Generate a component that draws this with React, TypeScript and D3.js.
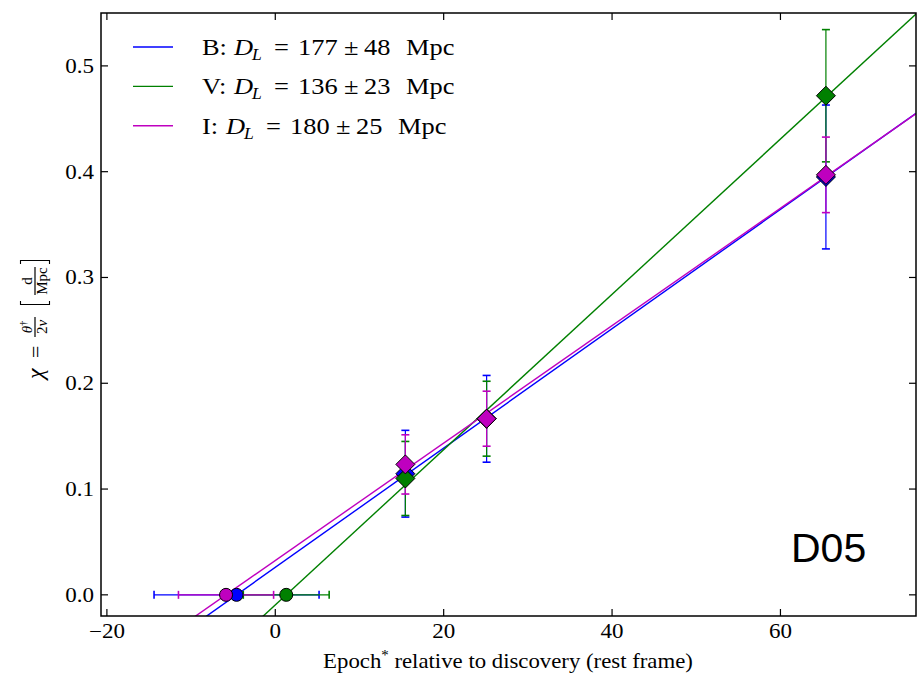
import React from "react";
import * as d3 from "d3";

// ---- data ----
const bands = ["B", "V", "I"];
const bandColors = ["#0000ff", "#008000", "#bf00bf"];
const distances = ["177", "136", "180"];
const distErrors = ["48", "23", "25"];
// zero-crossing epoch (circle) with symmetric x-error
const zeroEpoch = [-4.6, 1.3, -5.85];
const zeroEpochErr = [9.8, 5.1, 5.65];
// fitted slopes of chi vs epoch
const slopes = [0.00564, 0.00734, 0.00555];
// measured epochs
const epochs = [15.45, 25.1, 65.4];
const chiB = [0.1145, 0.1664, 0.395];
const chiBErr = [0.041, 0.041, 0.068];
const chiV = [0.11, 0.1665, 0.4718];
const chiVErr = [0.035, 0.0354, 0.0625];
const chiI = [0.1233, 0.1665, 0.397];
const chiIErr = [0.028, 0.026, 0.0357];
const xTicks = [-20, 0, 20, 40, 60];
const yTicks = [0.0, 0.1, 0.2, 0.3, 0.4, 0.5];
const xDomain = [-20.7, 76.1];
const yDomain = [-0.02, 0.55];

const chiValues = [chiB, chiV, chiI];
const chiErrors = [chiBErr, chiVErr, chiIErr];

const W = 918;
const H = 673;
const L = 101, R = 916, T = 13, B = 616;
const serif = "'Liberation Serif', 'Times New Roman', serif";

function SText(props: any) {
  const { x, y, sx = 1.18, anchor = "start", size = 21, italic = false, children } = props;
  return (
    <text
      transform={`translate(${x},${y}) scale(${sx},1)`}
      textAnchor={anchor}
      fontFamily={serif}
      fontSize={size}
      fontStyle={italic ? "italic" : "normal"}
      fill="#000"
    >
      {children}
    </text>
  );
}

export default function App() {
  const x = d3.scaleLinear().domain(xDomain).range([L, R]);
  const y = d3.scaleLinear().domain(yDomain).range([B, T]);
  const line = d3.line<[number, number]>().x((d) => x(d[0])).y((d) => y(d[1]));
  const fmtX = (v: number) => (v < 0 ? "\u2212" + Math.abs(v) : String(v));
  const tickLen = 7;
  const diamond = (cx: number, cy: number, r: number) =>
    `M${cx},${cy - r}L${cx + r},${cy}L${cx},${cy + r}L${cx - r},${cy}Z`;
  const legendShift = [0, 0, -8];

  return (
    <svg width={W} height={H} style={{ position: "absolute", left: 0, top: 0, background: "#fff" }}>
      <defs>
        <clipPath id="plotclip">
          <rect x={L} y={T} width={R - L} height={B - T} />
        </clipPath>
      </defs>
      <rect x={0} y={0} width={W} height={H} fill="#fff" />
      <g clipPath="url(#plotclip)">
        {bands.map((b, i) => (
          <path
            key={"fit" + b}
            d={line([
              [xDomain[0], slopes[i] * (xDomain[0] - zeroEpoch[i])],
              [xDomain[1], slopes[i] * (xDomain[1] - zeroEpoch[i])],
            ]) || ""}
            stroke={bandColors[i]}
            strokeWidth={1.4}
            fill="none"
          />
        ))}
        {bands.map((b, i) => (
          <g key={"pts" + b}>
            {epochs.map((e, j) => {
              const cx = x(e);
              const y1 = y(chiValues[i][j] + chiErrors[i][j]);
              const y2 = y(chiValues[i][j] - chiErrors[i][j]);
              return (
                <g key={j} stroke={bandColors[i]} strokeWidth={1.2}>
                  <line x1={cx} x2={cx} y1={y1} y2={y2} />
                  <line x1={cx - 4} x2={cx + 4} y1={y1} y2={y1} strokeWidth={1.6} />
                  <line x1={cx - 4} x2={cx + 4} y1={y2} y2={y2} strokeWidth={1.6} />
                </g>
              );
            })}
            {(() => {
              const x1 = x(zeroEpoch[i] - zeroEpochErr[i]);
              const x2 = x(zeroEpoch[i] + zeroEpochErr[i]);
              const cy = y(0);
              return (
                <g stroke={bandColors[i]} strokeWidth={1.2}>
                  <line x1={x1} x2={x2} y1={cy} y2={cy} />
                  <line x1={x1} x2={x1} y1={cy - 4} y2={cy + 4} strokeWidth={1.6} />
                  <line x1={x2} x2={x2} y1={cy - 4} y2={cy + 4} strokeWidth={1.6} />
                </g>
              );
            })()}
          </g>
        ))}
        {bands.map((b, i) => (
          <g key={"mk" + b}>
            {epochs.map((e, j) => (
              <path
                key={j}
                d={diamond(x(e), y(chiValues[i][j]), 9.5)}
                fill={bandColors[i]}
                stroke="#000"
                strokeWidth={1}
              />
            ))}
            <circle cx={x(zeroEpoch[i])} cy={y(0)} r={6.5} fill={bandColors[i]} stroke="#000" strokeWidth={1} />
          </g>
        ))}
      </g>

      {/* axes frame */}
      <rect x={L} y={T} width={R - L} height={B - T} fill="none" stroke="#000" strokeWidth={1.5} />
      {xTicks.map((t) => (
        <g key={"xt" + t}>
          <line x1={x(t)} x2={x(t)} y1={B} y2={B - tickLen} stroke="#000" strokeWidth={1.2} />
          <line x1={x(t)} x2={x(t)} y1={T} y2={T + tickLen} stroke="#000" strokeWidth={1.2} />
          <SText x={x(t)} y={638} anchor="middle" size={20} sx={1.15}>
            {fmtX(t)}
          </SText>
        </g>
      ))}
      {yTicks.map((t) => (
        <g key={"yt" + t}>
          <line x1={L} x2={L + tickLen} y1={y(t)} y2={y(t)} stroke="#000" strokeWidth={1.2} />
          <line x1={R} x2={R - tickLen} y1={y(t)} y2={y(t)} stroke="#000" strokeWidth={1.2} />
          <SText x={94} y={y(t) + 7} anchor="end" size={20} sx={1.15}>
            {t.toFixed(1)}
          </SText>
        </g>
      ))}

      {/* x label */}
      <SText x={508} y={668} anchor="middle" size={21.5} sx={1.06}>
        Epoch<tspan dy={-8} fontSize={14}>*</tspan>
        <tspan dy={8}> relative to discovery (rest frame)</tspan>
      </SText>

      {/* y label (rotated) */}
      <g transform="translate(42.5, 380) rotate(-90)" fontFamily={serif} fill="#000">
        <text x={1} y={0} fontSize={24} fontStyle="italic">χ</text>
        <text x={22} y={0} fontSize={22}>=</text>
        <text x={53} y={-11} fontSize={15} textAnchor="middle">
          <tspan fontStyle="italic">θ</tspan>
          <tspan dy={-5} fontSize={10}>†</tspan>
        </text>
        <line x1={43} x2={63} y1={-7.5} y2={-7.5} stroke="#000" strokeWidth={1.2} />
        <text x={53} y={4} fontSize={15} textAnchor="middle">
          2<tspan fontStyle="italic">ν</tspan>
        </text>
        <path d="M79,-22L75.5,-22L75.5,7L79,7" fill="none" stroke="#000" strokeWidth={1.1} />
        <text x={99} y={-11} fontSize={15} textAnchor="middle">d</text>
        <line x1={85} x2={113} y1={-7.5} y2={-7.5} stroke="#000" strokeWidth={1.2} />
        <text x={99} y={4} fontSize={15} textAnchor="middle">Mpc</text>
        <path d="M116,-22L119.5,-22L119.5,7L116,7" fill="none" stroke="#000" strokeWidth={1.1} />
      </g>

      {/* legend */}
      {bands.map((b, i) => {
        const ly = 47 + i * 39.4;
        const ty = ly + 8;
        const s = legendShift[i];
        return (
          <g key={"lg" + b}>
            <line x1={133} x2={173} y1={ly} y2={ly} stroke={bandColors[i]} strokeWidth={1.4} />
            <SText x={202} y={ty} size={24} sx={1.1}>{b}:</SText>
            <SText x={234 + s} y={ty} size={24} sx={1.1} italic>D</SText>
            <SText x={252 + s} y={ty + 5} size={16} sx={1.1} italic>L</SText>
            <SText x={274 + s} y={ty} size={24} sx={1.1}>=</SText>
            <SText x={298 + s} y={ty} size={24} sx={1.1}>{distances[i]}</SText>
            <SText x={344 + s} y={ty} size={24} sx={1.1}>±</SText>
            <SText x={364 + s} y={ty} size={24} sx={1.1}>{distErrors[i]}</SText>
            <SText x={406 + s} y={ty} size={24} sx={1.1}>Mpc</SText>
          </g>
        );
      })}

      {/* panel tag */}
      <text x={791} y={562} fontFamily="'Liberation Sans', Arial, sans-serif" fontSize={41} fill="#000">
        D05
      </text>
    </svg>
  );
}
